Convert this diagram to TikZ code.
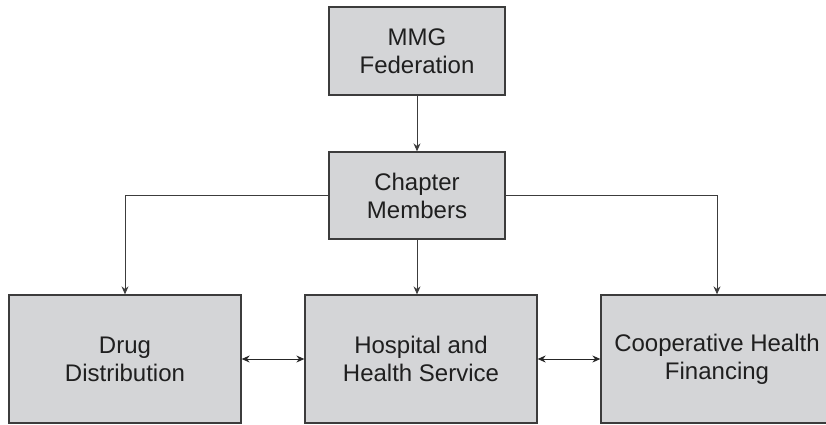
\documentclass[tikz,border=0pt]{standalone}
\usepackage{fontspec}
\setmainfont{Liberation Sans}
\usetikzlibrary{arrows.meta}
\definecolor{boxgray}{HTML}{D4D5D7}
\definecolor{linegray}{HTML}{3C3C3C}
\tikzset{
  orgbox/.style={draw=linegray, line width=1.3pt, fill=boxgray, align=center,
    inner sep=0pt, text=black!88, font=\fontsize{24}{28}\selectfont},
  link/.style={draw=linegray, line width=1pt, -{Stealth[length=8pt,width=7pt]}},
  twoway/.style={draw=black!85, line width=1pt, {Stealth[length=8pt,width=7pt]}-{Stealth[length=8pt,width=7pt]}}
}
\begin{document}
\begin{tikzpicture}[x=1pt,y=-1pt]
\clip (0,0) rectangle (826,425);
\node[orgbox, minimum width=176pt, minimum height=88pt] (fed) at (417,51) {MMG\\Federation};
\node[orgbox, minimum width=176pt, minimum height=87pt] (chap) at (417,195.5) {Chapter\\Members};
\node[orgbox, minimum width=232pt, minimum height=128pt] (drug) at (125,359) {Drug\\Distribution};
\node[orgbox, minimum width=232pt, minimum height=128pt] (hosp) at (421,359) {Hospital and\\Health Service};
\node[orgbox, minimum width=232pt, minimum height=128pt] (coop) at (717,359) {Cooperative Health\\Financing};
\draw[link] (fed) -- (chap);
\draw[link] (chap.west) -| (drug.north);
\draw[link] (chap.south) -- (chap.south |- hosp.north);
\draw[link] (chap.east) -| (coop.north);
\draw[twoway] (drug) -- (hosp);
\draw[twoway] (hosp) -- (coop);
\end{tikzpicture}
\end{document}
